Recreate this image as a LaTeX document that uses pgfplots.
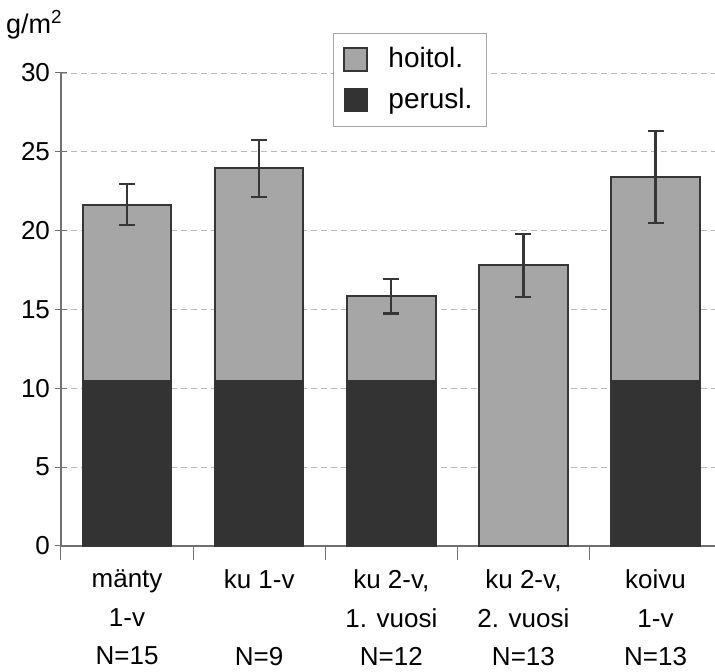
\documentclass[border=0pt]{standalone}
\usepackage{pgfplots}
\pgfplotsset{compat=1.18}
\usepackage{fontspec}
\setmainfont{Liberation Sans}
\usetikzlibrary{calc}

\definecolor{barfill}{HTML}{A6A6A6}
\definecolor{basefill}{HTML}{333333}
\definecolor{barline}{HTML}{363636}
\definecolor{axisgray}{HTML}{707070}

% bar tops (total) with error half-widths, and the lower component
\pgfplotstableread{
x total err
0 21.65 1.3
1 23.95 1.8
2 15.85 1.1
3 17.8 2.0
4 23.4 2.9
}\totaltab
\pgfplotstableread{
x base
0 10.5
1 10.5
2 10.5
4 10.5
}\basetab

\begin{document}
\begin{tikzpicture}
\begin{axis}[
  name=ax,
  scale only axis,
  width=327pt, height=236.5pt,
  xmin=-0.5, xmax=4.45,
  ymin=0, ymax=30,
  axis x line*=bottom, axis y line*=left,
  axis line style={axisgray, line width=0.6pt, -},
  ytick={0,5,...,30},
  xtick={0,...,4},
  minor xtick={-0.5,0.5,1.5,2.5,3.5},
  major x tick style={draw=none},
  minor tick length=7pt,
  major tick length=6pt,
  tick align=center,
  tick style={axisgray, line width=0.5pt},
  ymajorgrids,
  major grid style={densely dashed, gray!55, line width=0.4pt},
  xticklabels={{mänty\\1-v\\N=15},{ku 1-v\\\strut\\N=9},{ku 2-v,\\1. vuosi\\N=12},{ku 2-v,\\2. vuosi\\N=13},{koivu\\1-v\\N=13}},
  xticklabel style={align=center, font=\fontsize{13}{19.25}\selectfont, yshift=-2.5pt},
  yticklabel style={font=\fontsize{13}{15}\selectfont, xshift=1pt},
  /pgf/number format/assume math mode=true,
  ybar, bar width=0.67,
  clip=false,
  legend style={at={(axis description cs:0.416,1.0846)}, anchor=north west,
    draw=gray!70, line width=0.4pt, fill=white,
    font=\fontsize{14}{16}\selectfont,
    inner xsep=5pt, inner ysep=5pt, row sep=5pt,
    /tikz/every even column/.append style={column sep=0pt}},
  legend cell align=left,
  legend image code/.code={\draw[#1] (0pt,-5.75pt) rectangle (11.5pt,5.75pt);},
]
\addplot+[bar shift=0, fill=barfill, draw=barline, line width=1pt,
  error bars/.cd, y dir=both, y explicit,
  error bar style={barline, line width=1.1pt},
  error mark options={rotate=90, mark size=4pt, line width=1.1pt, barline}]
  table[x=x, y=total, y error=err] {\totaltab};
\addlegendentry{\hspace{8pt}hoitol.}
\addplot+[bar shift=0, fill=basefill, draw=basefill, line width=0.5pt]
  table[x=x, y=base] {\basetab};
\addlegendentry{\hspace{8pt}perusl.}
\node[anchor=base east, font=\fontsize{13.5}{15}\selectfont, inner sep=0pt]
  at ($(rel axis cs:0,1)+(1pt,19.5pt)$) {g/m\textsuperscript{2}};
\end{axis}
\pgfresetboundingbox
\path[use as bounding box] ($(ax.south west)+(-30.5pt,-63pt)$) rectangle ($(ax.north east)+(0,36.5pt)$);
\end{tikzpicture}
\end{document}
